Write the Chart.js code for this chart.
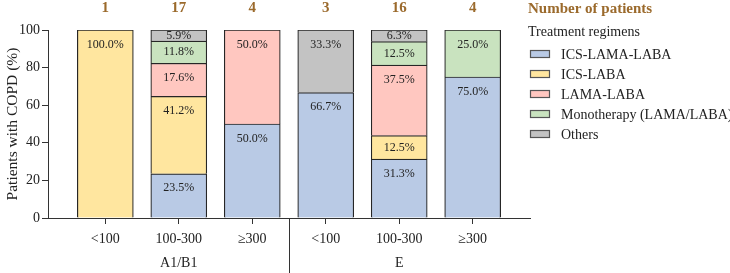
<!DOCTYPE html>
<html>
<head>
<meta charset="utf-8">
<script src="https://cdn.jsdelivr.net/npm/chart.js@4.4.1/dist/chart.umd.min.js"></script>
<style>
  html, body { margin: 0; padding: 0; background: #fff; }
  #wrap { width: 730px; height: 273px; position: relative; }
</style>
</head>
<body>
<div id="wrap"><canvas id="c"></canvas></div>
<script>
const categories = ["<100", "100-300", "\u2265300", "<100", "100-300", "\u2265300"];
const groups = ["A1/B1", "E"];
const patientCounts = [1, 17, 4, 3, 16, 4];

const icsLamaLaba = [0, 23.5, 50.0, 66.7, 31.3, 75.0];
const icsLaba = [100.0, 41.2, 0, 0, 12.5, 0];
const lamaLaba = [0, 17.6, 50.0, 0, 37.5, 0];
const monotherapy = [0, 11.8, 0, 0, 12.5, 25.0];
const others = [0, 5.9, 0, 33.3, 6.3, 0];

const yTicks = [0, 20, 40, 60, 80, 100];

const SERIF = "'Liberation Serif', 'DejaVu Serif', serif";
const BROWN = "#9b6a2c";
const INK = "#222";

const series = [
  { label: "ICS-LAMA-LABA", values: icsLamaLaba, color: "#b9cae5" },
  { label: "ICS-LABA", values: icsLaba, color: "#ffe69f" },
  { label: "LAMA-LABA", values: lamaLaba, color: "#ffc7c0" },
  { label: "Monotherapy (LAMA/LABA)", values: monotherapy, color: "#c9e3bf" },
  { label: "Others", values: others, color: "#c3c3c3" },
];

const overlay = {
  id: "overlay",
  afterDatasetsDraw(chart) {
    const { ctx, chartArea, scales } = chart;
    const x = scales.x;
    ctx.save();

    // percentage labels inside segments
    ctx.font = "12px " + SERIF;
    ctx.fillStyle = INK;
    ctx.textAlign = "center";
    ctx.textBaseline = "middle";
    chart.data.datasets.forEach((ds, di) => {
      const meta = chart.getDatasetMeta(di);
      meta.data.forEach((bar, i) => {
        const v = ds.data[i].y;
        if (!v) return;
        const top = Math.min(bar.y, bar.base);
        const h = Math.abs(bar.base - bar.y);
        const cy = top + Math.min(14.5, h / 2);
        ctx.fillText(v.toFixed(1) + "%", bar.x, cy);
      });
    });

    // number of patients on top
    ctx.font = "bold 15px " + SERIF;
    ctx.fillStyle = BROWN;
    patientCounts.forEach((n, i) => {
      ctx.fillText(String(n), x.getPixelForValue(i), 8);
    });

    // separator between groups
    ctx.strokeStyle = "#333";
    ctx.lineWidth = 1;
    const sx = Math.round(x.getPixelForValue(2.5)) + 0.5;
    ctx.beginPath();
    ctx.moveTo(sx, chartArea.bottom);
    ctx.lineTo(sx, chart.height);
    ctx.stroke();

    // group labels
    ctx.font = "14px " + SERIF;
    ctx.fillStyle = INK;
    ctx.fillText(groups[0], x.getPixelForValue(1), 263);
    ctx.fillText(groups[1], x.getPixelForValue(4), 263);

    // legend
    const lx = 528;
    ctx.textAlign = "left";
    ctx.font = "bold 15px " + SERIF;
    ctx.fillStyle = BROWN;
    ctx.fillText("Number of patients", lx, 9);
    ctx.font = "14px " + SERIF;
    ctx.fillStyle = INK;
    ctx.fillText("Treatment regimens", lx, 32);
    series.forEach((s, k) => {
      const cy = 54 + k * 20;
      ctx.fillStyle = s.color;
      ctx.fillRect(530, cy - 3.5, 19, 7);
      ctx.strokeStyle = "#555";
      ctx.lineWidth = 1.2;
      ctx.strokeRect(530.5, cy - 3.5, 19, 7);
      ctx.fillStyle = INK;
      ctx.fillText(s.label, 561, cy + 1);
    });
    ctx.restore();
  },
};

new Chart(document.getElementById("c"), {
  type: "bar",
  data: {
    datasets: series.map((s) => ({
      label: s.label,
      data: s.values.map((v, i) => ({ x: i, y: v })),
      backgroundColor: s.color,
      borderColor: "#262626",
      borderWidth: 1.2,
      barThickness: 56,
    })),
  },
  options: {
    responsive: true,
    maintainAspectRatio: false,
    animation: false,
    layout: { padding: { top: 30, right: 200, left: 0, bottom: 0 } },
    plugins: { legend: { display: false }, tooltip: { enabled: false } },
    scales: {
      x: {
        type: "linear",
        stacked: true,
        offset: false,
        min: -0.78,
        max: 5.78,
        afterFit: (s) => { s.height = 55; },
        grid: { drawOnChartArea: false, drawTicks: true, tickLength: 6, color: "#333", offset: false },
        border: { color: "#333", width: 1 },
        ticks: {
          stepSize: 1,
          autoSkip: false,
          includeBounds: false,
          maxRotation: 0,
          padding: 7,
          color: INK,
          font: { family: SERIF, size: 14 },
          callback: (v) => (Number.isInteger(v) ? categories[v] : ""),
        },
      },
      y: {
        stacked: true,
        min: 0,
        max: 100,
        afterFit: (s) => { s.width = 48; },
        afterBuildTicks: (s) => { s.ticks = yTicks.map((v) => ({ value: v })); },
        grid: { drawOnChartArea: false, drawTicks: true, tickLength: 6, color: "#333" },
        border: { color: "#333", width: 1 },
        ticks: { color: INK, padding: 2, font: { family: SERIF, size: 14 } },
        title: {
          display: true,
          text: "Patients with COPD (%)",
          color: INK,
          padding: { top: 4, bottom: 0 },
          font: { family: SERIF, size: 15.5 },
        },
      },
    },
  },
  plugins: [overlay],
});
</script>
</body>
</html>
